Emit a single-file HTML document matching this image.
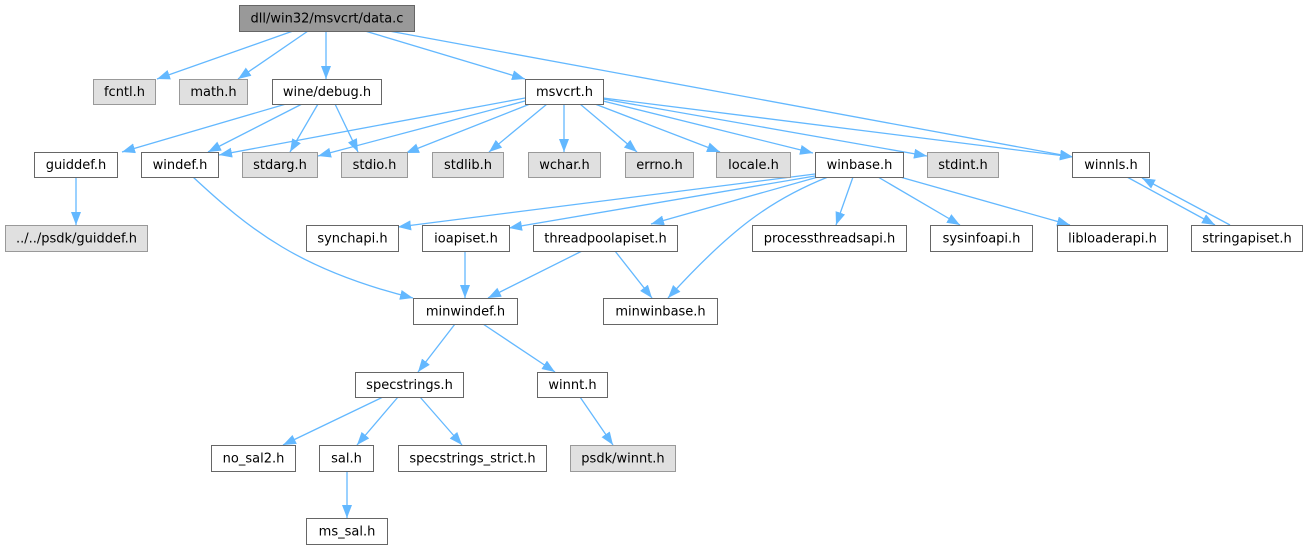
<!DOCTYPE html>
<html><head><meta charset="utf-8"><style>
html,body{margin:0;padding:0;background:#fff;}
svg{display:block;}
text{font-family:"DejaVu Sans","Liberation Sans",sans-serif;font-size:13px;fill:#000;text-anchor:middle;}
.e{stroke:#63b8ff;stroke-width:1.3;fill:none;marker-end:url(#a);}
.w{fill:#fff;stroke:#666;stroke-width:1;}
.g{fill:#e0e0e0;stroke:#999;stroke-width:1;}
.r{fill:#999;stroke:#666;stroke-width:1;}
</style></head><body>
<svg width="1307" height="549" viewBox="0 0 1307 549" xmlns="http://www.w3.org/2000/svg">
<defs>
<marker id="a" markerUnits="userSpaceOnUse" markerWidth="14" markerHeight="11" refX="13" refY="5" orient="auto">
<path d="M0,0 L13,5 L0,10 z" fill="#63b8ff"/>
</marker>
</defs>
<!-- edges -->
<line class="e" x1="293" y1="31" x2="157" y2="79"/>
<line class="e" x1="308" y1="31" x2="238" y2="79"/>
<line class="e" x1="326" y1="31" x2="326" y2="79"/>
<line class="e" x1="365" y1="31" x2="525" y2="79"/>
<line class="e" x1="389" y1="31" x2="1073" y2="157"/>

<line class="e" x1="286" y1="104" x2="122" y2="152"/>
<line class="e" x1="302" y1="104" x2="208" y2="152"/>
<line class="e" x1="318" y1="104" x2="290" y2="152"/>
<line class="e" x1="335" y1="104" x2="358" y2="152"/>

<line class="e" x1="525" y1="98" x2="219" y2="155"/>
<line class="e" x1="525" y1="101" x2="318" y2="156"/>
<line class="e" x1="530" y1="104" x2="406" y2="153"/>
<line class="e" x1="547" y1="104" x2="489" y2="152"/>
<line class="e" x1="564" y1="104" x2="564" y2="152"/>
<line class="e" x1="580" y1="104" x2="637" y2="152"/>
<line class="e" x1="595" y1="104" x2="720" y2="152"/>
<line class="e" x1="603" y1="101" x2="813" y2="153"/>
<line class="e" x1="603" y1="99" x2="927" y2="156"/>
<line class="e" x1="603" y1="98" x2="1073" y2="157"/>

<line class="e" x1="815" y1="174" x2="398" y2="227"/>
<line class="e" x1="815" y1="176" x2="509" y2="228"/>
<line class="e" x1="818" y1="177" x2="651" y2="224"/>
<path class="e" d="M828,177 C770,200 730,230 668,298"/>
<line class="e" x1="853" y1="177" x2="836" y2="225"/>
<line class="e" x1="878" y1="177" x2="960" y2="225"/>
<line class="e" x1="900" y1="177" x2="1070" y2="225"/>

<line class="e" x1="1127" y1="177" x2="1215" y2="225"/>
<line class="e" x1="1230" y1="225" x2="1142" y2="178"/>

<line class="e" x1="76" y1="177" x2="76" y2="225"/>
<path class="e" d="M193,177 C250,230 300,270 413,298"/>

<line class="e" x1="465" y1="251" x2="465" y2="298"/>
<line class="e" x1="582" y1="251" x2="488" y2="298"/>
<line class="e" x1="615" y1="251" x2="652" y2="298"/>

<line class="e" x1="455" y1="324" x2="418" y2="372"/>
<line class="e" x1="483" y1="324" x2="555" y2="372"/>
<line class="e" x1="383" y1="397" x2="283" y2="445"/>
<line class="e" x1="398" y1="397" x2="357" y2="445"/>
<line class="e" x1="420" y1="397" x2="462" y2="445"/>
<line class="e" x1="580" y1="397" x2="613" y2="445"/>
<line class="e" x1="347" y1="471" x2="347" y2="518"/>

<!-- nodes -->
<rect class="r" x="239.5" y="5.5" width="175" height="26"/><text x="327" y="22.5">dll/win32/msvcrt/data.c</text>

<rect class="g" x="93.5" y="79.5" width="62" height="25"/><text x="124.5" y="96">fcntl.h</text>
<rect class="g" x="179.5" y="79.5" width="68" height="25"/><text x="213.5" y="96">math.h</text>
<rect class="w" x="272.5" y="79.5" width="109" height="25"/><text x="327" y="96">wine/debug.h</text>
<rect class="w" x="525.5" y="79.5" width="78" height="25"/><text x="564.5" y="96">msvcrt.h</text>

<rect class="w" x="34.5" y="152.5" width="83" height="25"/><text x="76" y="169">guiddef.h</text>
<rect class="w" x="141.5" y="152.5" width="77" height="25"/><text x="180" y="169">windef.h</text>
<rect class="g" x="242.5" y="152.5" width="75" height="25"/><text x="280" y="169">stdarg.h</text>
<rect class="g" x="341.5" y="152.5" width="66" height="25"/><text x="374.5" y="169">stdio.h</text>
<rect class="g" x="432.5" y="152.5" width="71" height="25"/><text x="468" y="169">stdlib.h</text>
<rect class="g" x="528.5" y="152.5" width="72" height="25"/><text x="564.5" y="169">wchar.h</text>
<rect class="g" x="625.5" y="152.5" width="68" height="25"/><text x="659.5" y="169">errno.h</text>
<rect class="g" x="716.5" y="152.5" width="74" height="25"/><text x="753.5" y="169">locale.h</text>
<rect class="w" x="815.5" y="152.5" width="88" height="25"/><text x="859.5" y="169">winbase.h</text>
<rect class="g" x="927.5" y="152.5" width="71" height="25"/><text x="963" y="169">stdint.h</text>
<rect class="w" x="1072.5" y="152.5" width="77" height="25"/><text x="1111" y="169">winnls.h</text>

<rect class="g" x="5.5" y="225.5" width="142" height="26"/><text x="76.5" y="242.5">../../psdk/guiddef.h</text>
<rect class="w" x="306.5" y="225.5" width="92" height="26"/><text x="352.5" y="242.5">synchapi.h</text>
<rect class="w" x="422.5" y="225.5" width="87" height="26"/><text x="466" y="242.5">ioapiset.h</text>
<rect class="w" x="533.5" y="225.5" width="144" height="26"/><text x="605.5" y="242.5">threadpoolapiset.h</text>
<rect class="w" x="752.5" y="225.5" width="154" height="26"/><text x="829.5" y="242.5">processthreadsapi.h</text>
<rect class="w" x="930.5" y="225.5" width="102" height="26"/><text x="981.5" y="242.5">sysinfoapi.h</text>
<rect class="w" x="1057.5" y="225.5" width="110" height="26"/><text x="1112.5" y="242.5">libloaderapi.h</text>
<rect class="w" x="1191.5" y="225.5" width="111" height="26"/><text x="1247" y="242.5">stringapiset.h</text>

<rect class="w" x="413.5" y="298.5" width="104" height="26"/><text x="465.5" y="315.5">minwindef.h</text>
<rect class="w" x="603.5" y="298.5" width="114" height="26"/><text x="660.5" y="315.5">minwinbase.h</text>

<rect class="w" x="355.5" y="372.5" width="108" height="25"/><text x="409.5" y="389">specstrings.h</text>
<rect class="w" x="537.5" y="372.5" width="70" height="25"/><text x="572.5" y="389">winnt.h</text>

<rect class="w" x="211.5" y="445.5" width="84" height="26"/><text x="253.5" y="462.5">no_sal2.h</text>
<rect class="w" x="319.5" y="445.5" width="54" height="26"/><text x="346.5" y="462.5">sal.h</text>
<rect class="w" x="398.5" y="445.5" width="148" height="26"/><text x="472.5" y="462.5">specstrings_strict.h</text>
<rect class="g" x="570.5" y="445.5" width="105" height="26"/><text x="623" y="462.5">psdk/winnt.h</text>

<rect class="w" x="306.5" y="518.5" width="81" height="26"/><text x="347" y="535.5">ms_sal.h</text>
</svg>
</body></html>
